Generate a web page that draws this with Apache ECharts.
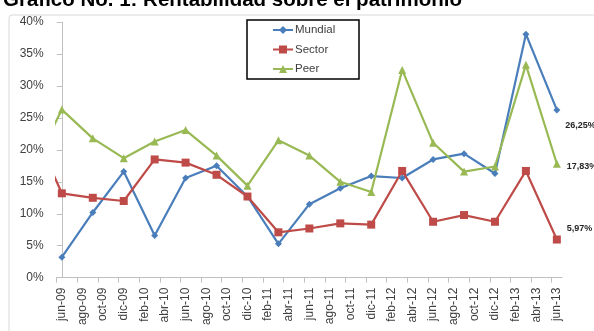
<!DOCTYPE html>
<html><head><meta charset="utf-8">
<script src="https://cdn.jsdelivr.net/npm/echarts@6/dist/echarts.min.js"></script>
<style>html,body{margin:0;padding:0;background:#fff}#c{width:594px;height:331px}</style>
</head><body><div id="c"></div>
<script>
const title = 'Gráfico No. 1: Rentabilidad sobre el patrimonio';
const dates = ['mar-09','jun-09','sep-09','dic-09','mar-10','jun-10','sep-10','dic-10','mar-11','jun-11','sep-11','dic-11','mar-12','jun-12','sep-12','dic-12','mar-13','jun-13'];
const mundial = [null, 3.2, 10.2, 16.6, 6.6, 15.6, 17.5, 12.7, 5.3, 11.5, 14.0, 15.9, 15.6, 18.5, 19.4, 16.3, 38.1, 26.25];
const sector  = [24.0, 13.2, 12.5, 12.0, 18.5, 18.0, 16.1, 12.7, 7.1, 7.7, 8.5, 8.3, 16.7, 8.75, 9.8, 8.75, 16.7, 5.97];
const peer    = [16.5, 26.3, 21.8, 18.7, 21.3, 23.1, 19.1, 14.4, 21.5, 19.1, 15.0, 13.4, 32.5, 21.1, 16.6, 17.4, 33.3, 17.83];
const tickLabels = ['jun-09','ago-09','oct-09','dic-09','feb-10','abr-10','jun-10','ago-10','oct-10','dic-10','feb-11','abr-11','jun-11','ago-11','oct-11','dic-11','feb-12','abr-12','jun-12','ago-12','oct-12','dic-12','feb-13','abr-13','jun-13'];
const yTicks = [0,5,10,15,20,25,30,35,40];

const monthNames = ['ene','feb','mar','abr','may','jun','jul','ago','sep','oct','nov','dic'];
function mIdx(s){ const [m,y] = s.split('-'); return (2000+ +y)*12 + monthNames.indexOf(m) - (2009*12+5); }
const labelPos = tickLabels.map(mIdx);
const tickPos = labelPos.map(v => v - 0.5);
function pairs(arr){ return arr.map((v,i)=>[mIdx(dates[i]), v]); }
function fmt(v){ return v.toFixed(2).replace('.',',') + '%'; }

function lastLabel(arr, offset){
  const d = pairs(arr);
  const i = d.length-1;
  d[i] = {value: d[i], label:{show:true, position:'right', distance:5, offset: offset,
    formatter: p => fmt(p.value[1]), fontSize:9, fontWeight:'bold', color:'#262626', fontFamily:'Liberation Sans, Arial'}};
  return d;
}

const chart = echarts.init(document.getElementById('c'), null, {renderer:'canvas'});
chart.setOption({
  animation:false,
  title:{text:title, left:3, top:-10, padding:0, textStyle:{fontSize:20.5, fontWeight:'bold', color:'#000', fontFamily:'Liberation Sans, Arial'}},
  graphic:[
    {type:'rect', shape:{x:9, y:15, width:620, height:340, r:3}, style:{fill:'none', stroke:'#d9d9d9', lineWidth:1}, z:-1},
    {type:'rect', shape:{x:247, y:20, width:112, height:59}, style:{fill:'#fff', stroke:'#000', lineWidth:1.5}, z:5}
  ],
  legend:{left:272, top:24, padding:0, orient:'vertical', itemGap:7.5, itemWidth:20, itemHeight:10, z:10,
    textStyle:{fontSize:11.5, color:'#404040', fontFamily:'Liberation Sans, Arial', padding:[0,0,0,-3]},
    data:['Mundial','Sector','Peer']},
  grid:{left:56.7, right:32, top:22, bottom:53.3},
  xAxis:{type:'value', min:-0.5, max:48.5,
    axisLine:{lineStyle:{color:'#bfbfbf', width:1}},
    axisTick:{show:true, customValues:tickPos, length:5, lineStyle:{color:'#bfbfbf'}},
    axisLabel:{customValues:labelPos, rotate:90, margin:10, fontSize:12, color:'#404040', fontFamily:'Liberation Sans, Arial',
      formatter: v => tickLabels[labelPos.indexOf(Math.round(v))] || ''},
    splitLine:{show:false}},
  yAxis:{type:'value', min:0, max:40, interval:5,
    axisLine:{show:true, lineStyle:{color:'#bfbfbf'}},
    axisTick:{show:true, length:5, lineStyle:{color:'#bfbfbf'}},
    axisLabel:{formatter:'{value}%', fontSize:12, color:'#404040', margin:13, fontFamily:'Liberation Sans, Arial'},
    splitLine:{show:false}},
  series:[
    {name:'Mundial', type:'line', data:lastLabel(mundial,[0,16]), symbol:'diamond', symbolSize:7,
      lineStyle:{color:'#4a7ebb', width:2.2}, itemStyle:{color:'#4a7ebb'}, clip:true},
    {name:'Sector', type:'line', data:lastLabel(sector,[1,-11]), symbol:'rect', symbolSize:8,
      lineStyle:{color:'#be4b48', width:2.2}, itemStyle:{color:'#be4b48'}, clip:true},
    {name:'Peer', type:'line', data:lastLabel(peer,[1,3]), symbol:'triangle', symbolSize:8,
      lineStyle:{color:'#98b954', width:2.2}, itemStyle:{color:'#98b954'}, clip:true}
  ]
});
</script></body></html>
